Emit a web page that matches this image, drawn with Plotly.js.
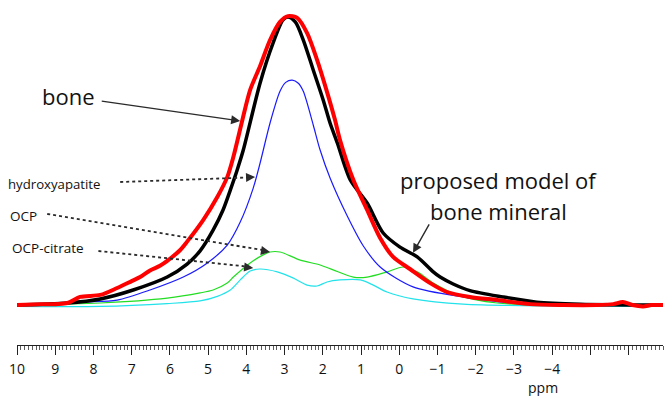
<!DOCTYPE html>
<html>
<head>
<meta charset="utf-8">
<script src="https://cdn.plot.ly/plotly-3.0.1.min.js"></script>
<style>html,body{margin:0;padding:0;background:#fff}#chart{width:667px;height:396px}</style>
</head>
<body>
<div id="chart"></div>
<script>
// ---- data (chemical shift in ppm, intensity normalised to bone peak = 100) ----
const bonePpm = [10.0, 9.57, 8.68, 8.35, 7.82, 7.38, 7.0, 6.78, 6.52, 6.26, 6.07, 5.73, 5.55, 5.13, 4.76, 4.50, 4.34, 4.11, 3.90, 3.64, 3.38, 3.12, 2.91, 2.67, 2.41, 2.15, 1.89, 1.68, 1.55, 1.20, 0.84, 0.50, 0.16, -0.28, -0.81, -1.25, -1.85, -2.56, -3.42, -4.28, -5.17, -5.6, -5.85, -6.1, -6.38, -6.6, -6.9];
const boneInt = [0, 0.2, 0.7, 2.8, 3.5, 5.9, 8.3, 9.7, 12.0, 13.6, 15.3, 19.1, 22.0, 29.5, 37.5, 44.4, 51.4, 63.9, 74.7, 83.0, 92.0, 98.3, 100.3, 99.7, 94.4, 85.1, 74.0, 64.2, 57.3, 43.4, 33.0, 23.3, 16.7, 12.5, 7.6, 4.5, 2.8, 1.7, 0.3, 0, 0, 0.3, 1.0, 0, -0.5, 0, 0];

const modelPpm = [10.0, 8.68, 7.82, 6.96, 6.07, 5.55, 5.21, 4.87, 4.61, 4.42, 4.24, 4.08, 3.64, 3.30, 3.04, 2.91, 2.72, 2.51, 2.25, 1.99, 1.81, 1.62, 1.28, 0.84, 0.42, -0.02, -0.47, -0.89, -1.07, -1.41, -1.85, -2.71, -3.60, -4.73, -6.9];
const modelInt = [0, 0.7, 2.1, 5.2, 9.7, 14.2, 18.8, 26.0, 33.0, 39.9, 46.9, 53.8, 77.1, 91.0, 99.0, 100.0, 98.3, 92.0, 81.6, 71.2, 63.2, 56.3, 43.4, 35.4, 25.0, 20.1, 16.7, 11.5, 9.7, 7.3, 5.0, 2.8, 1.0, 0.3, 0];

const hapPpm = [10.0, 9.57, 8.27, 7.38, 6.52, 5.65, 5.02, 4.50, 4.16, 3.82, 3.64, 3.38, 3.12, 2.97, 2.80, 2.64, 2.51, 2.25, 2.07, 1.81, 1.36, 0.94, 0.50, -0.36, -1.67, -2.98, -6.9];
const hapInt = [0, 0, 1.0, 1.7, 5.2, 9.7, 14.6, 20.8, 28.8, 40.6, 49.3, 63.2, 74.2, 77.3, 78.1, 77.0, 74.2, 62.5, 53.8, 44.1, 30.9, 20.5, 13.2, 6.3, 2.8, 0.7, 0];

const ocpPpm = [10.0, 7.82, 6.07, 5.21, 4.87, 4.50, 4.34, 3.90, 3.56, 3.38, 3.12, 2.59, 2.07, 1.73, 1.20, 0.84, 0.32, -0.10, -0.47, -0.89, -1.51, -2.56, -6.9];
const ocpInt = [0, 0.7, 2.4, 4.2, 5.2, 7.6, 9.7, 14.6, 17.4, 18.4, 18.4, 15.6, 13.9, 12.2, 9.7, 9.7, 11.5, 13.2, 11.5, 7.6, 3.5, 0.7, 0];

const citPpm = [10.0, 7.82, 6.07, 5.21, 4.76, 4.42, 4.16, 3.90, 3.64, 3.19, 2.78, 2.41, 2.15, 1.89, 1.55, 1.02, 0.68, 0.32, -0.36, -1.67, -6.9];
const citInt = [-0.5, -0.5, 0.5, 1.4, 3.0, 5.2, 8.7, 11.8, 12.5, 11.5, 9.4, 6.9, 6.6, 8.0, 8.7, 8.7, 6.9, 4.5, 2.1, 0.3, -0.5];

const tickVals = [10, 9, 8, 7, 6, 5, 4, 3, 2, 1, 0, -1, -2, -3, -4, -5, -6];
const tickText = ['10', '9', '8', '7', '6', '5', '4', '3', '2', '1', '0', '\u22121', '\u22122', '\u22123', '\u22124', '', ''];

// ---- traces ----
function line(x, y, color, width) {
  return {x: x, y: y, type: 'scatter', mode: 'lines', hoverinfo: 'skip',
          line: {color: color, width: width, shape: 'spline', smoothing: 0.8}};
}
const traces = [
  line(citPpm, citInt, '#22e2ea', 1.2),
  line(ocpPpm, ocpInt, '#22dd22', 1.2),
  line(hapPpm, hapInt, '#1a1aff', 1.2),
  line(modelPpm, modelInt, '#000000', 3.5),
  line(bonePpm, boneInt, '#ff0000', 4)
];

const FONT = 'Open Sans, Noto Sans, sans-serif';
const ARROW = '#2a2a2a';

function label(text, x, y, size, xanchor) {
  return {text: text, xref: 'paper', yref: 'paper', x: x, y: y, xanchor: xanchor || 'left', yanchor: 'middle',
          showarrow: false, font: {family: FONT, size: size, color: '#111'}};
}
function head(x, y, ax, ay) {
  return {text: '', xref: 'x', yref: 'y', x: x, y: y, ax: ax, ay: ay, showarrow: true,
          arrowhead: 2, arrowsize: 1.3, arrowwidth: 1.4, arrowcolor: ARROW};
}

const annotations = [
  label('bone', 0.0356, 0.722, 22),
  label('hydroxyapatite', -0.0165, 0.4667, 13.2),
  label('OCP', -0.0139, 0.3739, 13.5),
  label('OCP-citrate', -0.0108, 0.281, 13.5),
  label('proposed model of', 0.746, 0.478, 22, 'center'),
  label('bone mineral', 0.746, 0.388, 22, 'center'),
  {text: 'ppm', xref: 'paper', yref: 'paper', x: 0.814, y: -0.1565, xanchor: 'center', yanchor: 'bottom',
   showarrow: false, font: {family: FONT, size: 14, color: '#111'}},
  // solid arrows
  head(4.16, 63.9, -140, -20),
  head(-0.36, 18.1, 17, -30),
  // heads of dotted arrows
  head(3.77, 44.4, -10, 0.4),
  head(3.38, 18.4, -9.9, -1.7),
  head(3.82, 12.85, -9.9, -1.1)
];

function dotted(x0, y0, x1, y1) {
  return {type: 'line', xref: 'x', yref: 'y', x0: x0, y0: y0, x1: x1, y1: y1,
          line: {color: ARROW, width: 1.8, dash: 'dot'}};
}
const shapes = [
  dotted(7.30, 42.7, 3.90, 44.3),
  dotted(9.21, 31.6, 3.55, 19.0),
  dotted(7.87, 18.75, 3.95, 13.3)
];

const layout = {
  width: 667, height: 396,
  margin: {l: 17, r: 4, t: 0, b: 51, pad: 0},
  paper_bgcolor: '#fff', plot_bgcolor: '#fff',
  showlegend: false,
  xaxis: {
    range: [10, -6.9], showgrid: false, zeroline: false,
    showline: true, linecolor: '#222', linewidth: 1.3,
    ticks: 'outside', ticklen: 9, tickwidth: 1, tickcolor: '#222',
    tickmode: 'array', tickvals: tickVals, ticktext: tickText,
    tickfont: {family: FONT, size: 14, color: '#111'},
    ticklabelstandoff: 2,
    minor: {tickmode: 'linear', tick0: 0, dtick: 0.1, ticks: 'outside', ticklen: 4, tickwidth: 0.8, tickcolor: '#333', showgrid: false}
  },
  yaxis: {range: [-13.89, 105.9], visible: false, showgrid: false, zeroline: false},
  annotations: annotations,
  shapes: shapes
};

Plotly.newPlot('chart', traces, layout, {staticPlot: true, displayModeBar: false});
</script>
</body>
</html>
